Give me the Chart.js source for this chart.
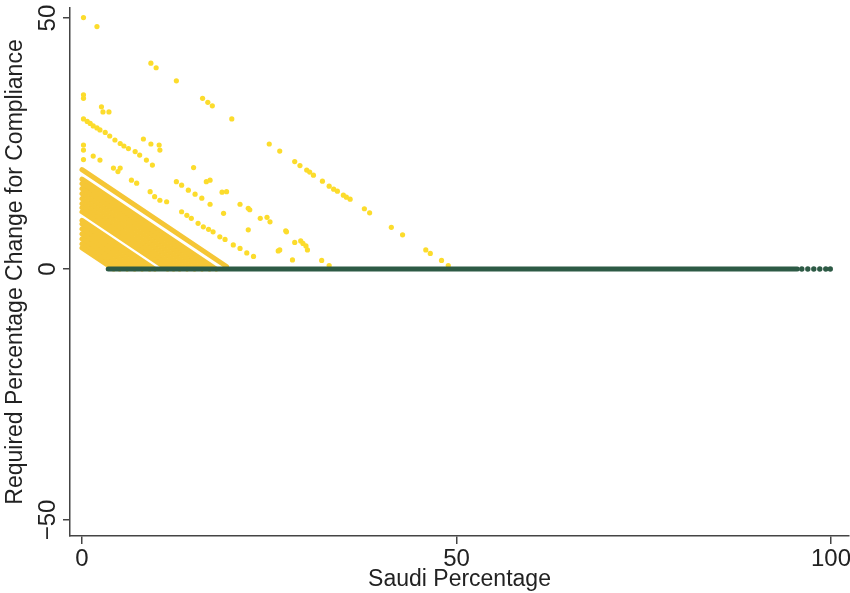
<!DOCTYPE html>
<html>
<head>
<meta charset="utf-8">
<script src="https://cdn.jsdelivr.net/npm/chart.js@4/dist/chart.umd.min.js"></script>
<style>
  html, body { margin: 0; padding: 0; background: #fff; }
  #wrap { width: 850px; height: 593px; }
</style>
</head>
<body>
<div id="wrap"><canvas id="graph" width="850" height="593"></canvas></div>
<script>
// axis ticks
const xTicks = [0, 50, 100]
const yTicks = [-50, 0, 50]

// dense yellow bands, each one a run of firms on the same quota line: [x0, y0, x1, y1]
const bandSegments = [
    [0, 4.2, 4.2, 0],
    [0, 5, 5, 0],
    [0, 6, 6, 0],
    [0, 7, 7, 0],
    [0, 8, 8, 0],
    [0, 9, 9, 0],
    [0, 9.7, 9.7, 0],
    [0, 11.4, 11.4, 0],
    [0, 12.2, 12.2, 0],
    [0, 13, 13, 0],
    [0, 14, 14, 0],
    [0, 15, 15, 0],
    [0, 16, 16, 0],
    [0, 17, 17, 0],
    [0, 17.9, 17.9, 0],
    [0, 19.8, 19.3, 0.5]
]

// scattered yellow firms
const sparseX = [
    0.2, 2.0, 9.2, 9.9, 12.6, 16.1, 16.8, 17.4, 20.0, 25.0, 26.4, 28.4, 29.1, 30.0, 30.4, 30.9,
    32.1, 33.0, 33.6, 34.1, 34.9, 35.3, 35.8, 37.7, 38.4, 41.3, 42.8, 45.9, 46.5, 48.0, 48.9,
    0.2, 0.2, 2.6, 2.8, 3.6, 8.2, 9.2, 10.3, 10.4, 14.9, 16.6, 17.1, 18.7, 19.3, 21.1, 22.2,
    22.4, 23.8, 24.7, 25.1, 27.2, 27.3, 28.4, 29.2, 29.5, 29.9, 30.1, 32.0, 33.0,
    0.2, 0.7, 1.1, 1.5, 2.0, 2.4, 3.1, 3.7, 4.4, 5.1, 5.6, 6.2, 7.1, 7.7, 8.6, 9.4, 12.6, 13.3,
    14.2, 15.1, 16.0, 17.1, 18.9, 22.2, 26.2, 26.4, 28.1,
    0.2, 0.2, 0.2, 1.5, 2.4, 4.2, 4.8, 5.1, 6.6, 7.3, 9.1, 9.7, 10.4, 11.3, 13.3, 14.0, 14.6,
    15.5, 16.2, 16.9, 17.5, 18.4, 19.1, 20.2, 21.1, 22.0, 22.9
]
const sparseY = [
    50.1, 48.3, 41.0, 40.1, 37.5, 34.0, 33.2, 32.5, 29.9, 24.9, 23.5, 21.4, 20.6, 19.7, 19.3, 18.7,
    17.5, 16.5, 15.9, 15.5, 14.7, 14.3, 13.9, 12.0, 11.2, 8.3, 6.8, 3.8, 3.1, 1.7, 0.7,
    34.7, 34.0, 32.3, 31.3, 31.3, 25.9, 24.9, 24.7, 23.7, 20.2, 17.4, 17.7, 15.3, 15.4, 12.9, 12.1,
    11.8, 10.1, 10.3, 9.4, 7.6, 7.4, 5.3, 5.6, 5.1, 4.6, 3.8, 1.7, 0.7,
    29.9, 29.4, 29.0, 28.5, 28.1, 27.7, 27.2, 26.5, 25.7, 25.0, 24.5, 24.0, 23.4, 22.7, 21.7, 20.7, 17.4, 16.7,
    15.7, 14.9, 14.1, 12.9, 11.1, 7.8, 3.6, 3.8, 1.8,
    24.7, 23.7, 21.8, 22.5, 21.7, 20.1, 19.4, 20.1, 17.7, 17.1, 15.4, 14.4, 13.7, 13.4, 11.4, 10.7, 10.1,
    9.1, 8.4, 7.9, 7.4, 6.4, 5.9, 4.8, 4.1, 3.2, 2.5
]

// compliant firms sit on zero
const zeroRun = [3.5, 95.5]
const zeroDotsX = [96.1, 96.9, 97.7, 98.5, 99.3, 99.9]

const YELLOW_BAND = '#f5c636'
const YELLOW_DOT = '#fcdc2c'
const GREEN = '#2d5a45'
const FONT = "'Liberation Sans', Arial, Helvetica, sans-serif"

const datasets = []

datasets.push({
    data: zeroRun.map(x => ({x: x, y: 0})),
    showLine: true,
    borderColor: GREEN,
    borderWidth: 5,
    borderCapStyle: 'round',
    pointRadius: 0
})
datasets.push({
    data: zeroDotsX.map(x => ({x: x, y: 0})),
    backgroundColor: GREEN,
    borderWidth: 0,
    pointRadius: 2.7
})
datasets.push({
    data: sparseX.map((x, i) => ({x: x, y: sparseY[i]})),
    backgroundColor: YELLOW_DOT,
    borderWidth: 0,
    pointRadius: 2.6
})
bandSegments.forEach(seg => {
    datasets.push({
        data: [{x: seg[0], y: seg[1]}, {x: seg[2], y: seg[3]}],
        showLine: true,
        borderColor: YELLOW_BAND,
        borderWidth: 5,
        borderCapStyle: 'round',
        pointRadius: 0
    })
})

const minusFmt = v => (v < 0 ? '\u2212' + Math.abs(v) : String(v))

const config = {
    type: 'scatter',
    data: {datasets: datasets},
    options: {
        responsive: false,
        devicePixelRatio: 1,
        animation: false,
        layout: {autoPadding: false, padding: {top: 8, right: 1, left: 0, bottom: 0}},
        plugins: {legend: {display: false}, tooltip: {enabled: false}},
        scales: {
            x: {
                type: 'linear',
                min: -1.6,
                max: 102.4,
                afterBuildTicks: s => { s.ticks = xTicks.map(v => ({value: v})) },
                afterFit: s => { s.height = 57; s.paddingLeft = 0; s.paddingRight = 0 },
                grid: {drawOnChartArea: false, drawTicks: true, tickLength: 8, tickColor: '#444', lineWidth: 1.5},
                border: {display: true, color: '#444', width: 1.5},
                ticks: {
                    callback: minusFmt,
                    font: {family: FONT, size: 24},
                    color: '#222',
                    padding: 1,
                    maxRotation: 0
                },
                title: {
                    display: true,
                    text: 'Saudi Percentage',
                    font: {family: FONT, size: 23},
                    color: '#222',
                    padding: {top: 0, bottom: 0}
                }
            },
            y: {
                type: 'linear',
                min: -53.2,
                max: 52,
                afterBuildTicks: s => { s.ticks = yTicks.map(v => ({value: v})) },
                afterFit: s => { s.width = 70; s.paddingTop = 0; s.paddingBottom = 0 },
                grid: {drawOnChartArea: false, drawTicks: true, tickLength: 7, tickColor: '#444', lineWidth: 1.5},
                border: {display: true, color: '#444', width: 1.5},
                ticks: {
                    callback: minusFmt,
                    font: {family: FONT, size: 24},
                    color: '#222',
                    minRotation: 90,
                    maxRotation: 90,
                    crossAlign: 'center',
                    padding: -6
                },
                title: {
                    display: true,
                    text: 'Required Percentage Change for Compliance',
                    font: {family: FONT, size: 23},
                    color: '#222',
                    padding: {top: 2, bottom: 0}
                }
            }
        }
    }
}

const chart = new Chart(document.getElementById('graph'), config)
</script>
</body>
</html>
